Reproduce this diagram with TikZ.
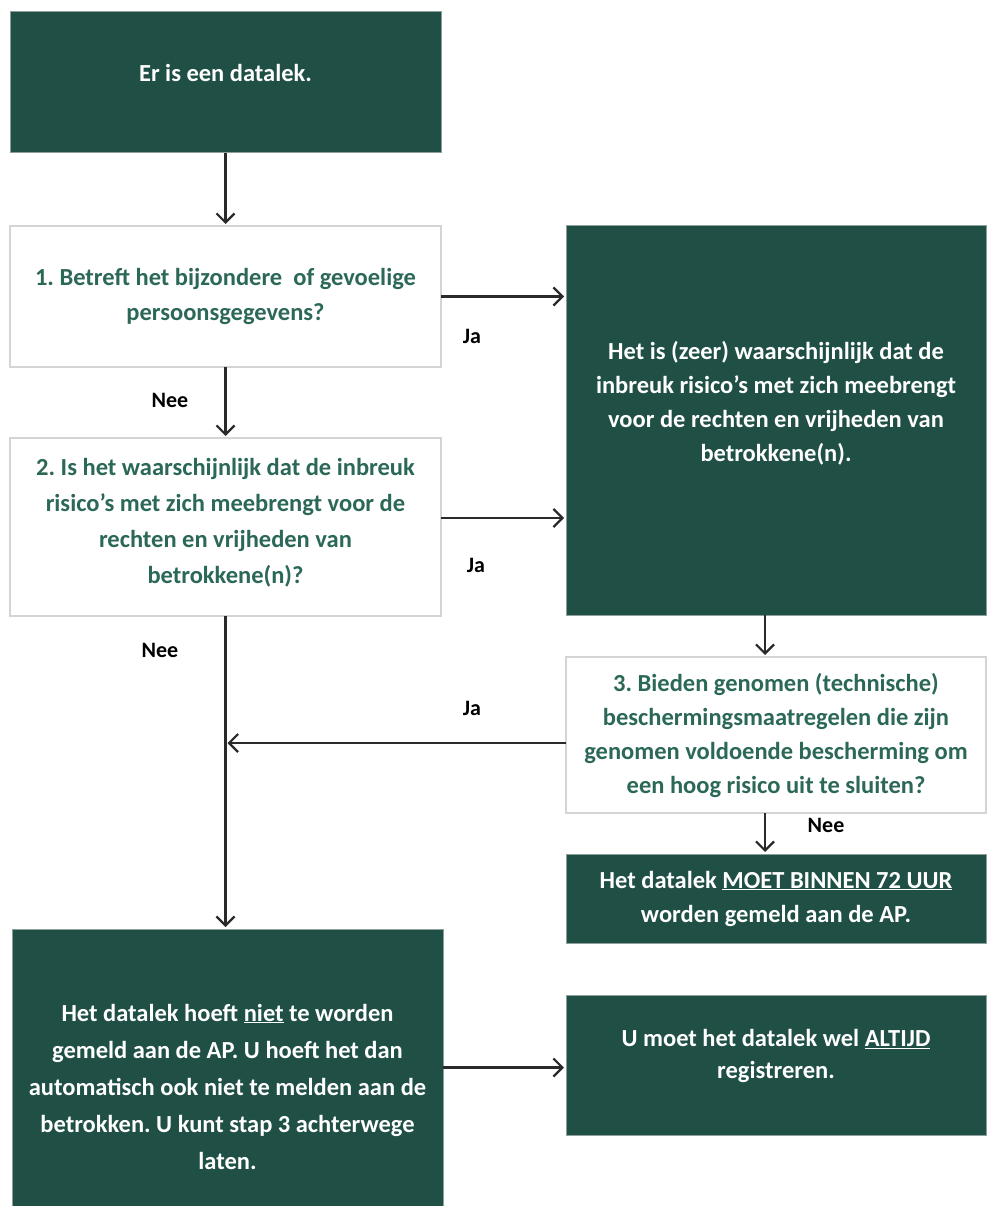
\documentclass[tikz,border=0pt]{standalone}
\usepackage{fontspec}
\setmainfont{Carlito}
\frenchspacing
\usetikzlibrary{arrows.meta,calc}
\definecolor{dkgreen}{HTML}{1F4F45}
\definecolor{txtgreen}{HTML}{2C6858}
\definecolor{boxgray}{HTML}{D4D4D4}
\definecolor{arrgray}{HTML}{2A2A2A}
\tikzset{
  darkbox/.style={fill=dkgreen, draw=boxgray!60!dkgreen, line width=1pt, inner sep=0pt, outer sep=0pt, anchor=north west},
  whitebox/.style={fill=white, draw=boxgray, line width=2pt, inner sep=0pt, outer sep=0pt, anchor=north west},
  darktxt/.style={text=white, font=\bfseries\fontsize{24.5}{35}\selectfont, align=center},
  whitetxt/.style={text=txtgreen, font=\bfseries\fontsize{24.5}{35}\selectfont, align=center},
  lbl/.style={text=black, font=\bfseries\fontsize{22}{24}\selectfont},
  arr/.style={draw=arrgray, line width=2.2pt, -{Straight Barb[length=9pt,width=18pt,line width=2.2pt]}, shorten >=2pt}
}
\begin{document}
\frenchspacing
\begin{tikzpicture}[x=1pt,y=-1pt]
\useasboundingbox (0,0) rectangle (986,1206);
% boxes
\node[darkbox, minimum width=431pt, minimum height=141pt] (A) at (10,12) {};
\node[whitebox, minimum width=431pt, minimum height=141pt] (Q1) at (10,226) {};
\node[darkbox, minimum width=420pt, minimum height=389pt] (R) at (566,226) {};
\node[whitebox, minimum width=431pt, minimum height=178pt] (Q2) at (10,438) {};
\node[whitebox, minimum width=420pt, minimum height=156pt] (Q3) at (566,657) {};
\node[darkbox, minimum width=420pt, minimum height=89pt] (M) at (566,854) {};
\node[darkbox, minimum width=431pt, minimum height=277pt] (L) at (12,929) {};
\node[darkbox, minimum width=420pt, minimum height=140pt] (U) at (566,995) {};
% texts
\node[darktxt] (tA) at ([yshift=10pt]A.center) {Er is een datalek.};
\node[whitetxt] (tQ1) at (Q1.center) {1. Betreft het bijzondere\ \ of gevoelige\\persoonsgegevens?};
\node[darktxt, font=\bfseries\fontsize{24.5}{34}\selectfont] (tR) at ([yshift=17pt]R.center) {Het is (zeer) waarschijnlijk dat de\\inbreuk risico’s met zich meebrengt\\voor de rechten en vrijheden van\\betrokkene(n).};
\node[whitetxt, font=\bfseries\fontsize{24.5}{36}\selectfont] (tQ2) at ([yshift=4pt]Q2.center) {2. Is het waarschijnlijk dat de inbreuk\\risico’s met zich meebrengt voor de\\rechten en vrijheden van\\betrokkene(n)?};
\node[whitetxt, font=\bfseries\fontsize{24.5}{34}\selectfont] (tQ3) at (Q3.center) {3. Bieden genomen (technische)\\beschermingsmaatregelen die zijn\\genomen voldoende bescherming om\\een hoog risico uit te sluiten?};
\node[darktxt, font=\bfseries\fontsize{24.5}{34}\selectfont] (tM) at (M.center) {Het datalek \underline{MOET BINNEN 72 UUR}\\worden gemeld aan de AP.};
\node[darktxt, font=\bfseries\fontsize{24.5}{37}\selectfont] (tL) at ([yshift=-19pt]L.center) {Het datalek hoeft \underline{niet} te worden\\gemeld aan de AP. U hoeft het dan\\automatisch ook niet te melden aan de\\betrokken. U kunt stap 3 achterwege\\laten.};
\node[darktxt, font=\bfseries\fontsize{24.5}{32}\selectfont] (tU) at ([yshift=9pt]U.center) {U moet het datalek wel \underline{ALTIJD}\\registreren.};
% connectors
\draw[arr] (A.south) -- (Q1.north);
\draw[arr] (Q1.east) -- (Q1.east -| R.west);
\draw[arr] (Q1.south) -- (Q2.north);
\coordinate (q2j) at ([yshift=9pt]Q2.east);
\draw[arr] (q2j) -- (q2j -| R.west);
\draw[arr] (Q2.south) -- (Q2.south |- L.north);
\draw[arr] ([xshift=-11pt]R.south) -- ([xshift=-11pt]Q3.north);
\coordinate (q3j) at ([yshift=-8pt]Q3.west);
\draw[arr] (q3j) -- (q3j -| Q2.south);
\draw[arr] ([xshift=-11pt]Q3.south) -- ([xshift=-11pt]M.north);
\draw[arr] (L.east) -- (L.east -| U.west);
% labels
\node[lbl] (l1) at (472,336) {Ja};
\node[lbl] (l2) at (170,400) {Nee};
\node[lbl] (l3) at (476,565) {Ja};
\node[lbl] (l4) at (160,650) {Nee};
\node[lbl] (l5) at (472,708) {Ja};
\node[lbl] (l6) at (826,825) {Nee};
\end{tikzpicture}
\end{document}
